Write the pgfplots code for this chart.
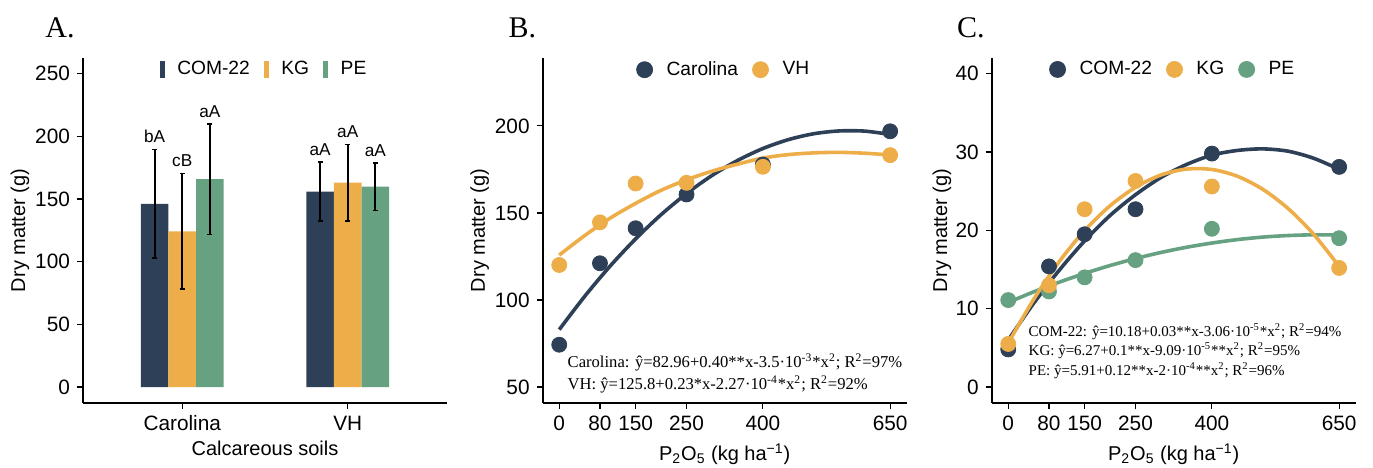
\documentclass[border=0pt]{standalone}
\usepackage{fontspec}
\setmainfont{Liberation Sans}
\newfontfamily\serif{Liberation Serif}
\usepackage{pgfplots}
\pgfplotsset{compat=1.18}

\definecolor{navy}{HTML}{2E4057}
\definecolor{gold}{HTML}{EDAE49}
\definecolor{sage}{HTML}{66A182}

\tikzset{
  eqnB/.style={anchor=west, inner sep=0pt, font=\serif\fontsize{8.3}{10}\selectfont},
  eqnC/.style={anchor=west, inner sep=0pt, font=\serif\fontsize{7.5}{9}\selectfont},
}

\pgfplotsset{
  panel/.style={
    scale only axis, width=182pt, height=172.35pt,
    anchor=south west,
    axis lines=left,
    axis line style={-, line width=0.9pt, black},
    tick align=outside, major tick length=3pt,
    tick style={line width=0.6pt, black},
    tick label style={font=\fontsize{10.4}{12}\selectfont, black},
    /pgf/number format/assume math mode=true,
    label style={font=\fontsize{11}{13}\selectfont},
    every axis y label/.style={at={(axis description cs:-0.173,0.5)}, rotate=90, anchor=center},
    legend style={draw=none, fill=none, at={(0.5,1.015)}, anchor=north,
      legend columns=-1, font=\fontsize{9.6}{12}\selectfont,
      /tikz/every even column/.append style={column sep=5pt}},
    clip=false,
  },
  pts/.style={only marks, mark=*, mark size=3.75pt, forget plot},
  fit/.style={line width=1.8pt, smooth, forget plot},
  barkey/.style={legend image code/.code={\fill[#1] (-1pt,-4pt) rectangle (1pt,4pt);
    \path[draw=none, fill=none] (0pt,-0.1pt) rectangle (5.6pt,0.1pt);}},
  dotkey/.style={legend image code/.code={\fill[#1] (0pt,0pt) circle (4pt);
    \path[draw=none, fill=none] (0pt,-0.1pt) rectangle (9pt,0.1pt);}},
  errs/.style={draw=none, mark=none, forget plot,
    error bars/.cd, y dir=both, y explicit,
    error bar style={line width=0.9pt, black},
    error mark options={rotate=90, mark size=1.2pt, line width=0.9pt, black}},
}

\begin{document}
\begin{tikzpicture}
\path[use as bounding box] (0,0) rectangle (686.5pt,233.5pt);

% ---- A. bars
\begin{axis}[panel, at={(41.5pt,32.15pt)},
  xmin=0.4, xmax=2.6, ymin=-12.5, ymax=262.5,
  xtick={1,2}, xticklabels={Carolina,VH}, ytick={0,50,...,250},
  xlabel={Calcareous soils}, ylabel={Dry matter (g)},
  every axis x label/.style={at={(axis description cs:0.5,-0.131)}, anchor=center},
]
\addplot[ybar, bar width=0.1667, bar shift=-0.1667, fill=navy, draw=none, forget plot]
  coordinates {(1,146.1) (2,155.8)};
\addplot[ybar, bar width=0.1667, bar shift=0, fill=gold, draw=none, forget plot]
  coordinates {(1,124.2) (2,163.0)};
\addplot[ybar, bar width=0.1667, bar shift=0.1667, fill=sage, draw=none, forget plot]
  coordinates {(1,165.9) (2,159.8)};
% standard deviations
\addplot[errs] coordinates {
  (0.8333,146.1) +- (0,43.4) (1,124.2) +- (0,46.2) (1.1667,165.9) +- (0,44.2)
  (1.8333,155.8) +- (0,23.5) (2,163.0) +- (0,30.5) (2.1667,159.8) +- (0,18.9)};
% letters over the error bars
\addplot[draw=none, mark=none, forget plot, nodes near coords, point meta=explicit symbolic,
  nodes near coords style={anchor=south, inner sep=0pt, yshift=3pt, font=\fontsize{8.6}{10}\selectfont}]
  coordinates {(0.8333,189.5)[bA] (1,170.4)[cB] (1.1667,210.1)[aA]
               (1.8333,179.3)[aA] (2,193.5)[aA] (2.1667,178.7)[aA]};
\addlegendimage{barkey=navy}
\addlegendimage{barkey=gold}
\addlegendimage{barkey=sage}
\legend{COM-22,KG,PE}
\end{axis}

% ---- B. Carolina / VH
\begin{axis}[panel, at={(271.35pt,32.15pt)},
  xmin=-32.5, xmax=682.5, ymin=41, ymax=239,
  xtick={0,80,150,250,400,650}, ytick={50,100,150,200},
  xlabel={P\textsubscript{2}O\textsubscript{5} (kg ha\textsuperscript{−1})}, ylabel={Dry matter (g)},
  every axis x label/.style={at={(axis description cs:0.5,-0.149)}, anchor=center},
]
\addplot[pts, navy] coordinates {(0,74.3) (80,121.1) (150,141.2) (250,160.6) (400,177.8) (650,196.9)};
\addplot[pts, gold] coordinates {(0,120.1) (80,144.6) (150,166.9) (250,167.3) (400,176.5) (650,183.2)};
\addplot[fit, navy] coordinates {(0,83.0) (50,102.1) (100,119.5) (150,135.1) (200,149.0) (250,161.1)
  (300,171.5) (350,180.1) (400,187.0) (450,192.1) (500,195.5) (550,197.1) (600,197.0) (650,195.1)};
\addplot[fit, gold] coordinates {(0,125.8) (50,137.0) (100,147.0) (150,155.5) (200,163.0) (250,169.0)
  (300,174.0) (350,178.0) (400,181.5) (450,183.5) (500,184.5) (550,184.8) (600,184.3) (650,183.3)};
\addlegendimage{dotkey=navy}
\addlegendimage{dotkey=gold}
\legend{Carolina,VH}
\node[eqnB] at (rel axis cs:0.0676,0.116) {Carolina: ŷ=82.96+0.40**x-3.5·10\textsuperscript{-3}*x\textsuperscript{2}; R\textsuperscript{2}=97\%};
\node[eqnB] at (rel axis cs:0.0676,0.053) {VH: ŷ=125.8+0.23*x-2.27·10\textsuperscript{-4}*x\textsuperscript{2}; R\textsuperscript{2}=92\%};
\end{axis}

% ---- C. COM-22 / KG / PE
\begin{axis}[panel, at={(495.85pt,32.15pt)},
  xmin=-32.5, xmax=682.5, ymin=-2, ymax=42,
  xtick={0,80,150,250,400,650}, ytick={0,10,...,40},
  xlabel={P\textsubscript{2}O\textsubscript{5} (kg ha\textsuperscript{−1})}, ylabel={Dry matter (g)},
  every axis x label/.style={at={(axis description cs:0.5,-0.149)}, anchor=center},
  every axis y label/.style={at={(axis description cs:-0.137,0.5)}, rotate=90, anchor=center},
]
\addplot[pts, navy] coordinates {(0,4.8) (80,15.4) (150,19.5) (250,22.7) (400,29.8) (650,28.1)};
\addplot[pts, sage] coordinates {(0,11.1) (80,12.2) (150,14.0) (250,16.2) (400,20.2) (650,19.0)};
\addplot[pts, gold] coordinates {(0,5.5) (80,13.0) (150,22.7) (250,26.3) (400,25.6) (650,15.2)};
\addplot[fit, navy] coordinates {(0,6.0) (50,10.7) (100,14.9) (150,18.65) (200,21.9) (250,24.55)
  (300,26.75) (350,28.4) (400,29.6) (450,30.2) (500,30.4) (550,30.1) (600,29.2) (650,27.8)};
\addplot[fit, sage] coordinates {(0,10.8) (50,12.15) (100,13.38) (150,14.5) (200,15.51) (250,16.4)
  (300,17.18) (350,17.84) (400,18.38) (450,18.82) (500,19.14) (550,19.34) (600,19.43) (650,19.4)};
\addplot[fit, gold] coordinates {(0,5.6) (50,11.2) (100,16.0) (150,19.97) (200,23.14) (250,25.5)
  (300,27.07) (350,27.82) (400,27.77) (450,26.91) (500,25.24) (550,22.77) (600,19.49) (650,15.4)};
\addlegendimage{dotkey=navy}
\addlegendimage{dotkey=gold}
\addlegendimage{dotkey=sage}
\legend{COM-22,KG,PE}
\node[eqnC] at (rel axis cs:0.1005,0.206) {COM-22: ŷ=10.18+0.03**x-3.06·10\textsuperscript{-5}*x\textsuperscript{2}; R\textsuperscript{2}=94\%};
\node[eqnC] at (rel axis cs:0.1005,0.150) {KG: ŷ=6.27+0.1**x-9.09·10\textsuperscript{-5}**x\textsuperscript{2}; R\textsuperscript{2}=95\%};
\node[eqnC] at (rel axis cs:0.1005,0.092) {PE: ŷ=5.91+0.12**x-2·10\textsuperscript{-4}**x\textsuperscript{2}; R\textsuperscript{2}=96\%};
\end{axis}

% panel letters
\node[anchor=base west, inner sep=0pt, font=\serif\fontsize{15}{18}\selectfont] at (22.5pt,214.5pt) {A.};
\node[anchor=base west, inner sep=0pt, font=\serif\fontsize{15}{18}\selectfont] at (254.15pt,214.5pt) {B.};
\node[anchor=base west, inner sep=0pt, font=\serif\fontsize{15}{18}\selectfont] at (478.35pt,214.5pt) {C.};
\end{tikzpicture}
\end{document}
